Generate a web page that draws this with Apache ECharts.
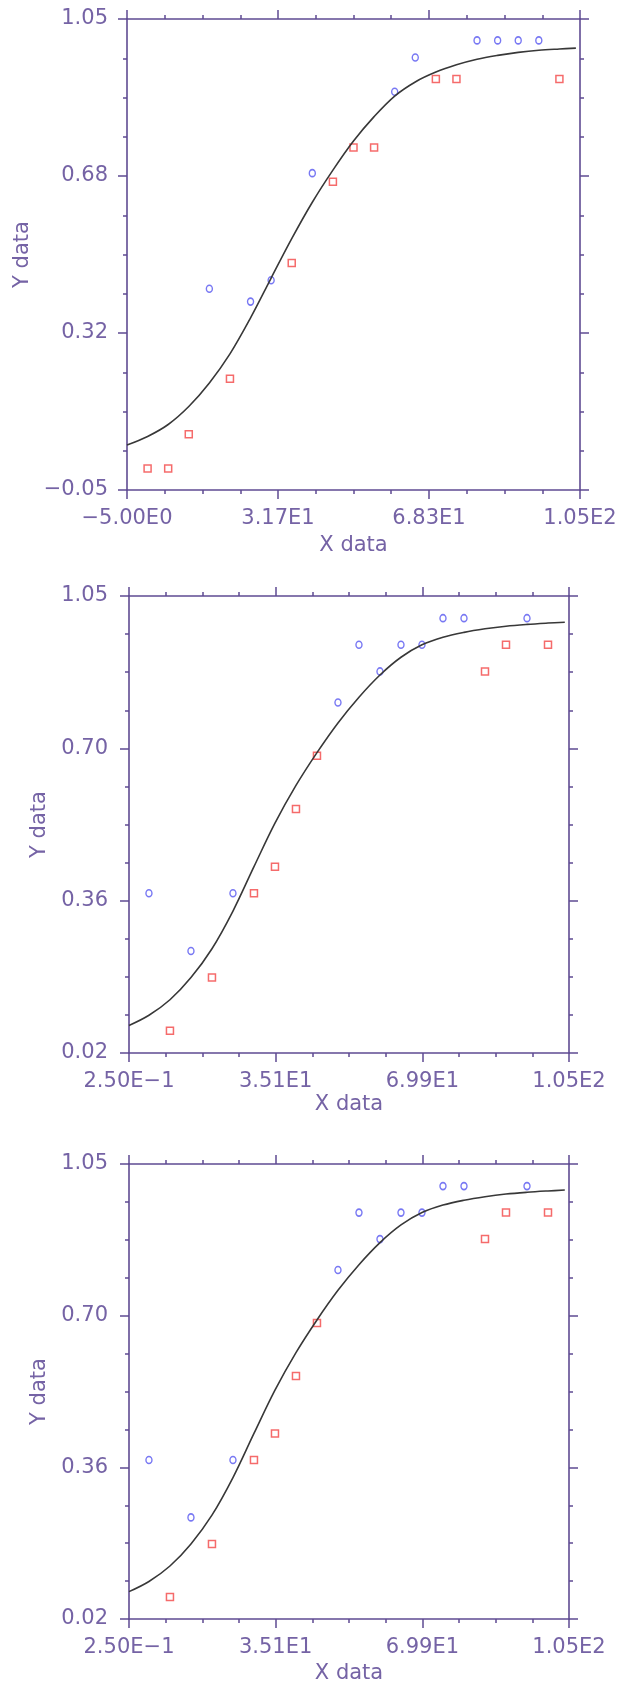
<!DOCTYPE html>
<html>
<head>
<meta charset="utf-8">
<script src="https://cdn.jsdelivr.net/npm/echarts@6/dist/echarts.min.js"></script>
<style>
  html, body { margin: 0; padding: 0; background: #fff; }
  #main { width: 626px; height: 1685px; }
</style>
</head>
<body>
<div id="main"></div>
<script>
// panel 1 data
var p1BlueX = [15, 25, 30, 40, 60, 65, 80, 85, 90, 95];
var p1BlueY = [0.42, 0.39, 0.44, 0.69, 0.88, 0.96, 1.0, 1.0, 1.0, 1.0];
var p1RedX = [0, 5, 10, 20, 35, 45, 50, 55, 70, 75, 100];
var p1RedY = [0.0, 0.0, 0.08, 0.21, 0.48, 0.67, 0.75, 0.75, 0.91, 0.91, 0.91];
var p1CurveX = [-5, 0, 5, 10, 15, 20, 25, 30, 35, 40, 45, 50, 55, 60, 65, 70, 75, 80, 85, 90, 95, 100, 104];
var p1CurveY = [0.055, 0.075, 0.103, 0.145, 0.2, 0.268, 0.352, 0.445, 0.537, 0.622, 0.697, 0.765, 0.822, 0.87, 0.903, 0.926, 0.943, 0.956, 0.965, 0.972, 0.977, 0.98, 0.982];
var p1XLabels = ['\u22125.00E0', '3.17E1', '6.83E1', '1.05E2'];
var p1YLabels = ['\u22120.05', '0.32', '0.68', '1.05'];

// panel 2 and 3 data (same plot drawn twice)
var p2BlueX = [5, 15, 25, 50, 55, 60, 65, 70, 75, 80, 95];
var p2BlueY = [0.38, 0.25, 0.38, 0.81, 0.94, 0.88, 0.94, 0.94, 1.0, 1.0, 1.0];
var p2RedX = [10, 20, 30, 35, 40, 45, 85, 90, 100];
var p2RedY = [0.07, 0.19, 0.38, 0.44, 0.57, 0.69, 0.88, 0.94, 0.94];
var p2CurveX = [0.25, 5, 10, 15, 20, 25, 30, 35, 40, 45, 50, 55, 60, 65, 70, 75, 80, 85, 90, 95, 100, 104];
var p2CurveY = [0.082, 0.105, 0.14, 0.19, 0.255, 0.34, 0.44, 0.538, 0.623, 0.697, 0.764, 0.822, 0.872, 0.912, 0.94, 0.957, 0.968, 0.976, 0.982, 0.986, 0.989, 0.991];
var p2XLabels = ['2.50E\u22121', '3.51E1', '6.99E1', '1.05E2'];
var p2YLabels = ['0.02', '0.36', '0.70', '1.05'];

var axisColor = '#5f4b92';
var textColor = '#7563a5';
var font = 'DejaVu Sans';

function pairs(xs, ys) {
    var out = [];
    for (var i = 0; i < xs.length; i++) out.push([xs[i], ys[i]]);
    return out;
}

function makeAxis(min, max, labels, pos, gridIndex, showLabel, margin) {
    var iv = (max - min) / 3;
    return {
        type: 'value', gridIndex: gridIndex, position: pos,
        min: min, max: max, interval: iv,
        splitLine: { show: false },
        axisLine: { show: true, onZero: false, lineStyle: { color: axisColor, width: 1.6 } },
        axisTick: { show: true, inside: false, length: 9, lineStyle: { color: axisColor, width: 1.5 } },
        minorTick: { show: true, splitNumber: 4, length: 4, lineStyle: { color: axisColor, width: 1.5 } },
        axisLabel: {
            show: showLabel, margin: margin, color: textColor, fontFamily: font, fontSize: 21,
            showMinLabel: true, showMaxLabel: true,
            formatter: function (v) { return labels[Math.round((v - min) / iv)]; }
        }
    };
}

var grids = [
    { left: 127, top: 19, width: 453, height: 471 },
    { left: 129, top: 596, width: 440, height: 457 },
    { left: 129, top: 1164, width: 440, height: 456 }
];
var nameGapsY = [88, 69, 69];
var nameGapsX = [45, 41, 44];

var xAxes = [], yAxes = [], series = [];
for (var g = 0; g < 3; g++) {
    var first = g === 0;
    var xmin = first ? -5 : 0.25, ymin = first ? -0.05 : 0.02;
    var xl = first ? p1XLabels : p2XLabels, yl = first ? p1YLabels : p2YLabels;
    var bx = makeAxis(xmin, 105, xl, 'bottom', g, true, 18);
    bx.name = 'X data'; bx.nameLocation = 'middle'; bx.nameGap = nameGapsX[g];
    bx.nameTextStyle = { color: textColor, fontFamily: font, fontSize: 21 };
    xAxes.push(bx);
    xAxes.push(makeAxis(xmin, 105, xl, 'top', g, false, 8));
    var ly = makeAxis(ymin, 1.05, yl, 'left', g, true, first ? 19 : 21);
    ly.name = 'Y data'; ly.nameLocation = 'middle'; ly.nameGap = nameGapsY[g];
    ly.nameTextStyle = { color: textColor, fontFamily: font, fontSize: 21 };
    yAxes.push(ly);
    yAxes.push(makeAxis(ymin, 1.05, yl, 'right', g, false, 8));

    var cx = first ? p1CurveX : p2CurveX, cy = first ? p1CurveY : p2CurveY;
    var bX = first ? p1BlueX : p2BlueX, bY = first ? p1BlueY : p2BlueY;
    var rX = first ? p1RedX : p2RedX, rY = first ? p1RedY : p2RedY;
    series.push({
        type: 'line', xAxisIndex: g * 2, yAxisIndex: g * 2, data: pairs(cx, cy),
        smooth: 0.35, showSymbol: false, symbol: 'none',
        lineStyle: { color: '#383838', width: 1.6 }
    });
    series.push({
        type: 'scatter', xAxisIndex: g * 2, yAxisIndex: g * 2, data: pairs(bX, bY),
        symbol: 'circle', symbolSize: [6, 7],
        itemStyle: { color: 'rgba(255,255,255,0)', borderColor: '#5656f0', borderWidth: 1.5 }
    });
    series.push({
        type: 'scatter', xAxisIndex: g * 2, yAxisIndex: g * 2, data: pairs(rX, rY),
        symbol: 'rect', symbolSize: [7, 7],
        itemStyle: { color: 'rgba(255,255,255,0)', borderColor: '#f24646', borderWidth: 1.5 }
    });
}

var chart = echarts.init(document.getElementById('main'));
chart.setOption({
    backgroundColor: '#ffffff',
    animation: false,
    grid: grids,
    xAxis: xAxes,
    yAxis: yAxes,
    series: series
});
</script>
</body>
</html>
